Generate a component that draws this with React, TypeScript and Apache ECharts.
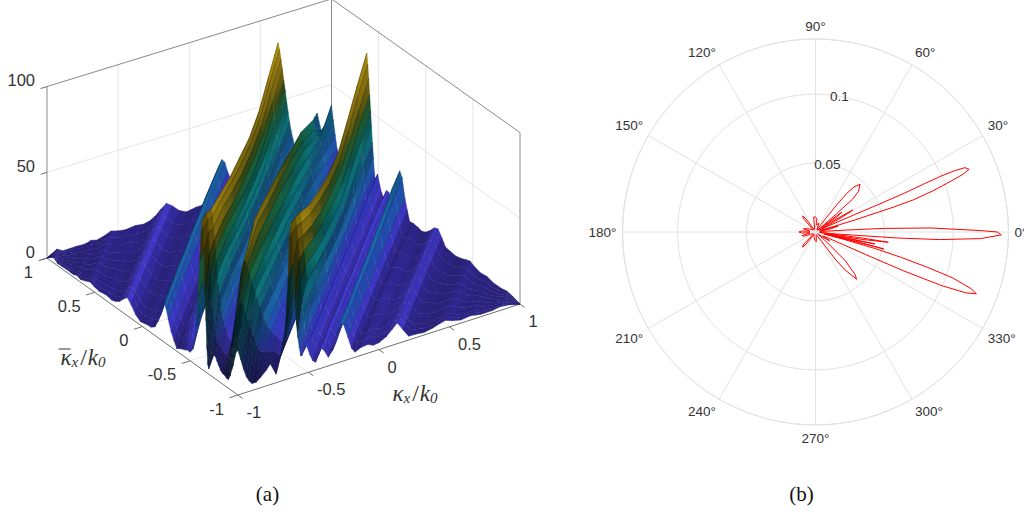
import React, { useEffect, useRef } from "react";
import * as echarts from "echarts";

// ---------- panel (a): surface heights ----------
// Positions along a ridge, as a fraction of the strip's half length (front edge -1, back edge 1).
const alongStations = [-1, -0.88, -0.75, -0.5, -0.25, 0, 0.25, 0.5, 0.75, 1];
// Each strip: its position across the ridges (kx - kbar), then its heights from front edge to back edge.
const surfaceStrips = [
  [-2, 0, 0, 0, 0, 0, 0, 0, 0, 0, 0],
  [-1.96, 2, 2, 2.1, 2, 2, 1.9, 2, 2.1, 2, 2],
  [-1.93, 3, 3.2, 3.4, 3.5, 3.4, 3.5, 3.3, 3.5, 3.4, 3.5],
  [-1.89, 1.2, 1.4, 1.5, 1.4, 1.6, 1.5, 1.4, 1.5, 1.6, 1.5],
  [-1.84, 1.4, 1.5, 1.4, 1.6, 1.5, 1.6, 1.4, 1.5, 1.6, 1.5],
  [-1.79, 1.6, 1.8, 1.6, 1.7, 1.5, 1.6, 1.8, 1.6, 1.5, 1.6],
  [-1.75, 1.4, 1.5, 1.4, 1.5, 1.6, 1.4, 1.5, 1.4, 1.5, 1.4],
  [-1.72, 1.5, 1.6, 1.5, 1.7, 1.5, 1.6, 1.5, 1.6, 1.5, 1.6],
  [-1.69, 2.4, 2.6, 2.5, 2.6, 2.4, 2.7, 2.5, 2.4, 2.6, 2.5],
  [-1.65, 1.5, 1.6, 1.4, 1.7, 1.5, 1.6, 1.4, 1.6, 1.5, 1.6],
  [-1.6, 2.6, 2.4, 2.8, 2.5, 2.7, 2.6, 2.8, 2.5, 2.6, 2.7],
  [-1.55, 4, 4.4, 4.2, 4.5, 4.1, 4.4, 4.2, 4.5, 4.3, 4.3],
  [-1.5, 3, 3.2, 2.9, 3.1, 3.3, 3, 2.9, 3.2, 3, 3.1],
  [-1.45, 2.4, 2.5, 2.7, 2.4, 2.6, 2.5, 2.7, 2.4, 2.6, 2.5],
  [-1.38, 3.2, 3, 3.3, 2.9, 3.1, 3.2, 3, 3.3, 3, 3.1],
  [-1.32, 2.6, 2.5, 2.7, 2.5, 2.6, 2.4, 2.7, 2.5, 2.6, 2.5],
  [-1.28, 3.4, 3.2, 3.5, 3.1, 3.4, 3.2, 3.3, 3.2, 3.4, 3.2],
  [-1.24, 5, 5.2, 4.8, 5.1, 5.3, 4.9, 5, 5.2, 5, 5],
  [-1.2, 8, 8.2, 7.8, 8.1, 8.3, 7.9, 8, 8.2, 8, 8],
  [-1.16, 10.5, 10.8, 10.4, 10.7, 10.9, 10.5, 10.6, 10.8, 10.5, 10.5],
  [-1.12, 8, 8.2, 7.9, 8, 8.3, 7.8, 8.1, 8.2, 8, 8],
  [-1.07, 4, 4.3, 3.9, 4.2, 4, 4.2, 3.8, 4.1, 4, 4],
  [-1.02, 2, 2.3, 2.1, 2.4, 2, 2.2, 2.1, 2.3, 2, 2],
  [-0.98, 2.6, 2.5, 2.7, 2.4, 2.6, 2.5, 2.7, 2.4, 2.5, 2.5],
  [-0.95, 3, 3.2, 3, 3.3, 3, 3.2, 3.1, 3, 3.1, 3],
  [-0.91, 3.2, 3.1, 3.4, 3, 3.3, 3.1, 3.2, 3, 3.2, 3],
  [-0.87, 5, 5.2, 5.4, 5, 5.3, 5, 5.2, 5.4, 5.1, 5],
  [-0.84, 9, 9.5, 9.8, 10, 9.6, 10, 9.8, 10, 10, 10],
  [-0.81, 14, 15, 15, 16, 16, 16, 17, 17, 17, 17],
  [-0.79, 19, 20, 20, 21, 21, 22, 22, 23, 23, 23],
  [-0.77, 22, 23, 23, 24, 24, 25, 25, 26, 26, 26],
  [-0.75, 20, 21, 21, 22, 22, 23, 23, 24, 24, 24],
  [-0.73, 15, 15, 16, 16, 17, 17, 17, 18, 18, 18],
  [-0.7, 9, 9, 10, 10, 10, 11, 11, 11, 11, 11],
  [-0.67, 5, 5.5, 6, 6, 6.5, 7, 7, 7, 7, 7],
  [-0.64, 1.5, 2, 3, 3, 3.5, 3, 3, 3, 3, 3],
  [-0.6, 3, 5, 7, 8, 9, 8, 7, 6, 6, 5],
  [-0.56, 4, 8, 12, 14, 14, 13, 12, 10, 9, 8],
  [-0.53, 5, 9, 14, 16, 16, 15, 14, 12, 10, 9],
  [-0.5, 5, 7, 11, 12, 12, 11, 11, 10, 8, 7],
  [-0.47, 8, 12, 15, 16, 15, 15, 14, 13, 12, 12],
  [-0.44, 22, 24, 22, 21, 20, 20, 20, 21, 23, 24],
  [-0.42, 40, 42, 38, 36, 34, 33, 33, 34, 38, 42],
  [-0.4, 62, 64, 60, 56, 52, 50, 49, 52, 58, 62],
  [-0.385, 79, 80, 75, 72, 68, 65, 63, 65, 72, 78],
  [-0.375, 87, 85, 80, 76, 72, 70, 68, 70, 77, 84],
  [-0.365, 82, 81, 76, 73, 69, 66, 65, 66, 74, 80],
  [-0.355, 70, 74, 70, 68, 64, 61, 60, 62, 69, 74],
  [-0.345, 45, 62, 63, 62, 58, 56, 54, 56, 62, 68],
  [-0.335, 30, 50, 57, 56, 53, 50, 49, 51, 56, 61],
  [-0.325, 14, 40, 50, 50, 47, 45, 44, 45, 50, 55],
  [-0.315, 5, 30, 44, 44, 41, 40, 39, 40, 44, 48],
  [-0.305, 3, 24, 38, 39, 37, 35, 34, 35, 39, 42],
  [-0.295, 5, 20, 33, 34, 32, 30, 30, 30, 34, 36],
  [-0.285, 7, 16, 28, 29, 27, 26, 25, 26, 29, 31],
  [-0.27, 10, 14, 23, 24, 22, 21, 21, 21, 24, 25],
  [-0.255, 13, 13, 18, 19, 18, 17, 17, 17, 19, 20],
  [-0.235, 13, 12, 15, 15, 14, 14, 13, 14, 15, 16],
  [-0.22, 11, 11, 12, 12, 11, 11, 10, 11, 12, 13],
  [-0.2, 9, 10, 10, 9, 9, 8, 8, 8, 9, 10],
  [-0.18, 7, 9, 9, 7, 7, 6, 6, 6, 7, 8],
  [-0.16, 6, 9, 9, 6, 6, 5, 5, 5, 6, 14],
  [-0.14, 6, 12, 14, 8, 7, 6, 6, 6, 14, 28],
  [-0.12, 5, 18, 25, 16, 12, 10, 10, 11, 22, 34],
  [-0.1, 5, 26, 40, 30, 24, 20, 20, 24, 30, 36],
  [-0.08, 8, 34, 52, 52, 44, 38, 38, 40, 32, 28],
  [-0.065, 12, 38, 56, 65, 60, 56, 52, 50, 38, 22],
  [-0.05, 15, 42, 60, 69, 66, 63, 59, 55, 46, 20],
  [-0.035, 20, 44, 60, 66, 62, 59, 55, 50, 40, 24],
  [-0.02, 24, 45, 58, 60, 57, 54, 50, 45, 36, 30],
  [0, 26, 44, 54, 53, 50, 47, 44, 40, 34, 38],
  [0.02, 20, 38, 48, 47, 44, 42, 39, 35, 30, 30],
  [0.04, 14, 34, 43, 41, 39, 37, 34, 31, 26, 22],
  [0.06, 9, 28, 38, 36, 34, 32, 30, 27, 22, 15],
  [0.08, 6, 24, 33, 31, 29, 28, 26, 23, 18, 12],
  [0.1, 4, 18, 28, 26, 25, 24, 22, 20, 15, 10],
  [0.13, 4, 14, 22, 21, 20, 19, 18, 16, 12, 8],
  [0.16, 6, 14, 18, 16, 15, 15, 14, 12, 9, 7],
  [0.2, 9, 13, 14, 11, 11, 10, 10, 9, 7, 6],
  [0.23, 12, 12, 11, 8, 8, 7, 7, 7, 6, 5],
  [0.27, 5, 9, 9, 9, 9, 9, 9, 9, 9, 8],
  [0.3, 14, 15, 15, 18, 17, 16, 16, 17, 18, 19],
  [0.315, 21, 22, 24, 26, 25, 24, 24, 26, 28, 28],
  [0.335, 30, 36, 42, 38, 35, 33, 33, 35, 38, 42],
  [0.355, 58, 60, 60, 57, 53, 50, 49, 54, 59, 63],
  [0.365, 82, 80, 76, 69, 64, 60, 59, 65, 72, 77],
  [0.375, 90, 87, 83, 74, 69, 65, 64, 70, 77, 83],
  [0.385, 84, 82, 77, 69, 64, 60, 59, 65, 72, 77],
  [0.395, 68, 74, 69, 62, 57, 54, 53, 58, 64, 69],
  [0.405, 45, 62, 60, 54, 50, 47, 46, 50, 56, 60],
  [0.415, 30, 50, 51, 46, 42, 40, 39, 43, 47, 51],
  [0.425, 22, 38, 42, 38, 35, 33, 32, 35, 39, 42],
  [0.435, 16, 28, 33, 30, 28, 26, 26, 28, 31, 33],
  [0.445, 11, 20, 25, 23, 21, 20, 20, 21, 23, 25],
  [0.455, 11, 15, 17, 16, 15, 14, 14, 15, 16, 17],
  [0.465, 13, 12, 11, 11, 10, 10, 10, 10, 11, 12],
  [0.478, 17, 14, 11, 11, 10, 10, 10, 11, 14, 15],
  [0.49, 15, 15, 15, 15, 16, 15, 15, 16, 17, 17],
  [0.51, 10, 11, 12, 12, 11, 12, 11, 12, 12, 12],
  [0.53, 6, 7, 8, 8, 7, 8, 8, 7, 8, 8],
  [0.55, 4.5, 5, 6, 6, 6, 6, 6, 6, 6, 6],
  [0.57, 8, 8, 9, 8, 9, 8, 9, 8, 9, 8],
  [0.584, 12, 11, 12, 11, 12, 11, 12, 12, 12, 11],
  [0.61, 10, 10, 11, 10, 11, 10, 11, 11, 11, 11],
  [0.64, 5, 6, 6, 7, 6, 7, 6, 7, 7, 6],
  [0.67, 8, 8, 9, 9, 9, 10, 9, 10, 10, 10],
  [0.7, 17, 16, 16, 17, 17, 18, 18, 19, 20, 20],
  [0.725, 23, 23, 22, 23, 23, 24, 25, 26, 28, 28],
  [0.75, 21, 21, 21, 22, 22, 22, 23, 24, 25, 25],
  [0.78, 13, 13, 14, 14, 13, 14, 14, 14, 15, 14],
  [0.805, 6, 7, 8, 8, 8, 8, 8, 8, 8, 8],
  [0.83, 3, 3.2, 3.5, 3.5, 3.5, 3.6, 3.5, 3.4, 3, 2.5],
  [0.87, 4.5, 5, 5, 5, 5.5, 5, 5, 4.5, 4, 3],
  [0.92, 5, 5.5, 6, 5.5, 6, 5.5, 5.5, 5, 4, 2.5],
  [0.96, 3.5, 4, 4.5, 4, 4.5, 4, 4, 3.5, 3, 2],
  [1.0, 4, 4.5, 5, 5, 5, 5, 4.5, 4, 3.5, 3],
  [1.05, 6, 6.5, 6.5, 6, 6.5, 6, 6, 6, 6, 6],
  [1.09, 9, 9.5, 9, 9, 9.5, 9, 9, 9, 9, 9],
  [1.13, 12, 11.5, 11, 10.5, 10.5, 10.5, 10, 10, 10, 10],
  [1.17, 7, 7, 6.5, 7, 6.5, 6.5, 7, 6.5, 6.5, 6.5],
  [1.21, 2.2, 2.5, 2.6, 2.5, 2.6, 2.5, 2.5, 2.6, 2.5, 2.5],
  [1.26, 2, 2.2, 2, 2.3, 2.1, 2.2, 2, 2.1, 2, 2],
  [1.32, 1.5, 1.6, 1.4, 1.5, 1.6, 1.4, 1.5, 1.4, 1.5, 1.5],
  [1.38, 2.4, 2.5, 2.3, 2.6, 2.4, 2.5, 2.3, 2.5, 2.4, 2.4],
  [1.43, 3.6, 3.8, 3.7, 3.9, 3.7, 3.8, 3.6, 3.8, 3.7, 3.7],
  [1.47, 4.5, 4.6, 4.4, 4.7, 4.5, 4.6, 4.4, 4.5, 4.4, 4.4],
  [1.52, 3, 3.2, 2.9, 3.1, 3, 3.2, 2.9, 3, 3, 3],
  [1.58, 1.8, 2, 1.9, 2.1, 1.8, 2, 1.9, 2, 1.9, 1.9],
  [1.65, 2.4, 2.6, 2.4, 2.7, 2.5, 2.6, 2.4, 2.5, 2.5, 2.5],
  [1.72, 1.4, 1.5, 1.6, 1.4, 1.5, 1.6, 1.4, 1.5, 1.4, 1.4],
  [1.8, 1.4, 1.5, 1.4, 1.5, 1.6, 1.4, 1.5, 1.4, 1.5, 1.5],
  [1.86, 2.2, 2.3, 2.2, 2.4, 2.2, 2.3, 2.2, 2.3, 2.2, 2.2],
  [1.92, 1.6, 1.7, 1.6, 1.7, 1.6, 1.7, 1.6, 1.7, 1.6, 1.6],
  [2, 0, 0, 0, 0, 0, 0, 0, 0, 0, 0],
];
const colorLevels = [0, 5, 10, 14, 18, 24, 30, 36, 42, 46, 50, 54, 58, 64, 72, 80, 88];
const colorStops = [
  "#2b2280", "#352ba8", "#4a40ea", "#3c3fe0", "#2958d0", "#1e78c4", "#134e88", "#0f7f96", "#0e8f8c", "#0a5a5c", "#1b7a55",
  "#1f6a3a", "#3d4f16", "#8a7812", "#a98a12", "#c9a815", "#fbe30f",
];
const sideTicks = [-1, -0.5, 0, 0.5, 1];
const sideTickLabels = ["-1", "-0.5", "0", "0.5", "1"];
const heightTicks = [0, 50, 100];

// ---------- panel (b): polar pattern ----------
const patternAngles = [
  0, 0.5, 2, 3, 3.6, 5, 9, 12, 15, 16, 16.5, 17, 17.7, 18.2, 19.3, 20.3, 21.3, 22.2, 23.3, 23.8, 24, 23.9, 23.6, 23.6, 24, 24.8, 26,
  27.5, 30, 30.7, 31.5, 33, 35, 37, 38, 39, 40, 41, 41.5, 43.5, 47, 49.5, 51, 52, 53, 56, 70, 80, 85, 92, 97, 102, 115, 122, 126, 129,
  132, 136, 150, 160, 165, 172, 176, 180, 184, 188, 195, 200, 205, 225, 226, 229.3, 232, 236, 255, 265, 275, 285, 295, 303, 306, 308,
  311, 313, 316, 318, 320, 325, 328, 330, 334.5, 335.8, 336.2, 337, 338, 339, 340, 341.5, 342.5, 343.5, 344.5, 345.5, 347, 347.5,
  346.3, 346, 347, 348, 348.3, 348.6, 349.2, 350, 351, 352, 352.6, 353, 354, 354.6, 355.8, 356.5, 357.7, 359.1, 360,
];
const patternRadii = [
  0.132, 0.1197, 0.0836, 0.05, 0.0227, 0.005, 0.003, 0.012, 0.017, 0.004, 0.006, 0.03, 0.06, 0.0748, 0.09, 0.1016, 0.114, 0.1203, 0.118, 0.11, 0.1, 0.085, 0.07, 0.05, 0.03, 0.012, 0.003,
  0.012, 0.029, 0.0315, 0.02, 0.006, 0.018, 0.024, 0.012, 0.002, 0.006, 0.02, 0.036, 0.043, 0.0474, 0.043, 0.036, 0.025, 0.012, 0.002, 0.007, 0.005, 0.01, 0.011, 0.011, 0.003, 0.002, 0.003, 0.012, 0.015,
  0.012, 0.002, 0.004, 0.007, 0.009, 0.004, 0.01, 0.012, 0.01, 0.004, 0.01, 0.009, 0.003, 0.002, 0.012, 0.0145, 0.012, 0.002, 0.004, 0.006, 0.007, 0.002, 0.003, 0.008, 0.025, 0.035,
  0.0454, 0.042, 0.03, 0.012, 0.002, 0.006, 0.012, 0.006, 0.01, 0.04, 0.07, 0.1, 0.118, 0.125, 0.12, 0.105, 0.085, 0.065, 0.045, 0.02, 0.006, 0.006,
  0.04, 0.0511, 0.03, 0.01, 0.03, 0.044, 0.025, 0.008, 0.035, 0.0533, 0.035, 0.012, 0.003, 0.0155, 0.059, 0.09, 0.1197, 0.1348, 0.132,
];
const radialMax = 0.14;
const SANS = '"Liberation Sans", Arial, sans-serif';
const SERIF = '"Liberation Serif", "Times New Roman", serif';

// oblique view of the data box onto the page
function project(u: number, v: number, z: number): number[] {
  return [
    284.1 + 141.65 * u - 94.85 * v + 0.6 * u * v,
    281.9 - 44.65 * u - 67.65 * v + 0.83 * u * v - 1.715 * z,
  ];
}
function hex(c: string): number[] {
  return [1, 3, 5].map((i) => parseInt(c.slice(i, i + 2), 16));
}
function colorFor(z: number, shade: number): string {
  let i = 0;
  while (i < colorLevels.length - 2 && z > colorLevels[i + 1]) i++;
  const f = Math.min(1, Math.max(0, (z - colorLevels[i]) / (colorLevels[i + 1] - colorLevels[i])));
  const a = hex(colorStops[i]);
  const b = hex(colorStops[i + 1]);
  const m = a.map((x, j) => Math.round(Math.min(255, (x + (b[j] - x) * f) * shade)));
  return `rgb(${m[0]},${m[1]},${m[2]})`;
}

type Quad = { pts: number[][]; front: string; back: string };
function buildQuads(): Quad[] {
  const K = alongStations.length;
  const node = (i: number, k: number) => {
    const d = surfaceStrips[i][0];
    const s = alongStations[k] * (1 - Math.abs(d) / 2);
    return [s + d / 2, s - d / 2, surfaceStrips[i][k + 1]];
  };
  const out: Quad[] = [];
  for (let k = K - 2; k >= 0; k--) {
    for (let i = 0; i < surfaceStrips.length - 1; i++) {
      const c = [node(i, k), node(i + 1, k), node(i + 1, k + 1), node(i, k + 1)];
      const a = [c[2][0] - c[0][0], c[2][1] - c[0][1], (c[2][2] - c[0][2]) / 60];
      const b = [c[3][0] - c[1][0], c[3][1] - c[1][1], (c[3][2] - c[1][2]) / 60];
      let n = [a[1] * b[2] - a[2] * b[1], a[2] * b[0] - a[0] * b[2], a[0] * b[1] - a[1] * b[0]];
      if (n[2] < 0) n = n.map((x) => -x);
      const len = Math.hypot(n[0], n[1], n[2]) || 1;
      const lit = (-0.1 * n[0] - 0.62 * n[1] + 0.78 * n[2]) / len;
      const central = Math.abs(surfaceStrips[i][0]) < 0.42;
      const rowDim = !central ? 1 : k === 0 ? 0.5 : k === 1 ? 0.72 : 1;
      const shade = (0.72 + 0.22 * Math.max(0, lit)) * rowDim;
      out.push({
        pts: c.map((p) => project(p[0], p[1], p[2])),
        front: colorFor((c[0][2] + c[1][2]) / 2, shade),
        back: colorFor((c[2][2] + c[3][2]) / 2, shade),
      });
    }
  }
  return out;
}

type Seg = { a: number[]; b: number[]; color: string };
function buildFrame(): Seg[] {
  const grid = "#e6e6e6";
  const edge = "#8a8a8a";
  const segs: Seg[] = [];
  const add = (p: number[], q: number[], color: string) => segs.push({ a: project(p[0], p[1], p[2]), b: project(q[0], q[1], q[2]), color });
  for (const t of sideTicks) {
    if (Math.abs(t) === 1) continue;
    add([t, 1, 0], [t, 1, 100], grid);
    add([1, t, 0], [1, t, 100], grid);
    add([t, -1, 0], [t, 1, 0], grid);
    add([-1, t, 0], [1, t, 0], grid);
  }
  add([-1, 1, 50], [1, 1, 50], grid);
  add([1, 1, 50], [1, -1, 50], grid);
  add([-1, 1, 0], [1, 1, 0], grid);
  add([1, 1, 0], [1, -1, 0], "#bdbdbd");
  add([-1, 1, 100], [1, 1, 100], edge);
  add([1, 1, 100], [1, -1, 100], edge);
  add([-1, 1, 0], [-1, 1, 100], edge);
  add([1, 1, 0], [1, 1, 100], edge);
  add([1, -1, 0], [1, -1, 100], edge);
  add([-1, -1, 0], [-1, 1, 0], "#707070");
  add([-1, -1, 0], [1, -1, 0], "#707070");
  for (const t of sideTicks) {
    add([-1, t, 0], [-1.06, t, 0], "#707070");
    add([t, -1, 0], [t, -1.05, 0], "#707070");
  }
  for (const h of heightTicks) add([-1, 1, h], [-1.045, 1, h], "#707070");
  return segs;
}

const quads = buildQuads();
const frame = buildFrame();

function labelGraphics(): any[] {
  const base = { fontFamily: SANS, fontSize: 16.5, fill: "#333333" };
  const els: any[] = [];
  sideTicks.forEach((t, i) => {
    const pv = project(-1, t, 0);
    els.push({ type: "text", x: pv[0] - 14, y: pv[1] + 13.5, style: { ...base, text: sideTickLabels[i], textAlign: "right", textVerticalAlign: "middle" } });
    const pu = project(t, -1, 0);
    els.push({ type: "text", x: pu[0] + 8.5, y: pu[1] + 17, style: { ...base, text: sideTickLabels[i], textAlign: "left", textVerticalAlign: "middle" } });
  });
  heightTicks.forEach((h) => {
    const p = project(-1, 1, h);
    els.push({ type: "text", x: p[0] - 12, y: p[1] - 6.5, style: { ...base, text: String(h), textAlign: "right", textVerticalAlign: "middle" } });
  });
  const math = {
    k: { fontFamily: SERIF, fontStyle: "italic", fontSize: 23, fill: "#333333" },
    s: { fontFamily: SERIF, fontStyle: "italic", fontSize: 15, fill: "#333333", verticalAlign: "bottom", padding: [9, 0, 0, 0] },
    n: { fontFamily: SERIF, fontSize: 24, fill: "#333333", padding: [0, 1, 0, 2] },
  };
  els.push({ type: "text", x: 415, y: 393, style: { text: "{k|κ}{s|x}{n|/}{k|k}{s|0}", rich: math, textAlign: "center", textVerticalAlign: "middle" } });
  els.push({ type: "text", x: 83, y: 357, style: { text: "{k|κ}{s|x}{n|/}{k|k}{s|0}", rich: math, textAlign: "center", textVerticalAlign: "middle" } });
  els.push({ type: "line", shape: { x1: 58.5, y1: 349, x2: 70.5, y2: 349 }, style: { stroke: "#333333", lineWidth: 1 } });
  els.push({ type: "text", x: 267.5, y: 494, style: { text: "(a)", fontFamily: SERIF, fontSize: 21, fill: "#111111", textAlign: "center", textVerticalAlign: "middle" } });
  els.push({ type: "text", x: 801.5, y: 494, style: { text: "(b)", fontFamily: SERIF, fontSize: 21, fill: "#111111", textAlign: "center", textVerticalAlign: "middle" } });
  return els;
}

export default function App() {
  const ref = useRef<HTMLDivElement>(null);
  useEffect(() => {
    document.body.style.margin = "0";
    const chart = echarts.init(ref.current!, undefined, { renderer: "svg" });
    const gridColor = "#e2e2e2";
    chart.setOption({
      animation: false,
      backgroundColor: "#ffffff",
      grid: { left: 0, right: 0, top: 0, bottom: 0 },
      xAxis: { type: "value", min: 0, max: 1024, show: false },
      yAxis: { type: "value", min: 0, max: 512, inverse: true, show: false },
      polar: [
        { center: [815.5, 232], radius: 193 },
        { center: [815.5, 232], radius: 193 },
      ],
      angleAxis: [
        {
          polarIndex: 0, type: "value", min: 0, max: 360, interval: 30, startAngle: 0, clockwise: false,
          axisLine: { show: true, lineStyle: { color: gridColor, width: 1 } },
          axisTick: { show: false },
          axisLabel: { show: true, formatter: "{value}°", margin: 6, fontFamily: SANS, fontSize: 13.5, color: "#333333" },
          splitLine: { show: true, lineStyle: { color: gridColor, width: 1 } },
        },
        {
          polarIndex: 1, type: "value", min: 0, max: 360, startAngle: 80, clockwise: false,
          axisLine: { show: false }, axisTick: { show: false }, axisLabel: { show: false }, splitLine: { show: false },
        },
      ],
      radiusAxis: [
        {
          polarIndex: 0, type: "value", min: 0, max: radialMax, interval: 0.05,
          axisLine: { show: false }, axisTick: { show: false }, axisLabel: { show: false },
          splitLine: { show: true, lineStyle: { color: gridColor, width: 1 } },
        },
        {
          polarIndex: 1, type: "value", min: 0, max: radialMax, interval: 0.05,
          axisLine: { show: false }, axisTick: { show: false }, splitLine: { show: false },
          axisLabel: {
            show: true, margin: 0, align: "center", verticalAlign: "middle", rotate: 0, fontFamily: SANS, fontSize: 13.5, color: "#333333",
            formatter: (v: number) => (v === 0.05 ? "0.05" : v === 0.1 ? "0.1" : ""),
          },
        },
      ],
      graphic: labelGraphics(),
      series: [
        {
          type: "custom", coordinateSystem: "cartesian2d", silent: true, z: 1,
          data: frame.map((s) => [s.a[0], s.a[1]]),
          renderItem: (p: any, api: any) => {
            const s = frame[p.dataIndex];
            const a = api.coord(s.a);
            const b = api.coord(s.b);
            return { type: "line", shape: { x1: a[0], y1: a[1], x2: b[0], y2: b[1] }, style: { stroke: s.color, lineWidth: 1 } };
          },
        },
        {
          type: "custom", coordinateSystem: "cartesian2d", silent: true, z: 2,
          data: quads.map((q) => q.pts[0]),
          renderItem: (p: any, api: any) => {
            const q = quads[p.dataIndex];
            const pts = q.pts.map((pt) => api.coord(pt));
            const fill = new echarts.graphic.LinearGradient(0.5, 1, 0.5, 0, [
              { offset: 0, color: q.front },
              { offset: 1, color: q.back },
            ]);
            return {
              type: "group",
              children: [
                { type: "polygon", shape: { points: pts }, style: { fill, stroke: q.back, lineWidth: 0.4 } },
                {
                  type: "line",
                  shape: { x1: pts[0][0], y1: pts[0][1], x2: pts[3][0], y2: pts[3][1] },
                  style: { stroke: "rgba(0,0,0,0.42)", lineWidth: 0.6 },
                },
              ],
            };
          },
        },
        {
          type: "line", coordinateSystem: "polar", polarIndex: 0, z: 3, silent: true, showSymbol: false, symbol: "none",
          smooth: false, lineStyle: { color: "#ff0000", width: 1 },
          data: patternAngles.map((a, i) => [patternRadii[i], a]),
        },
      ],
    });
    return () => chart.dispose();
  }, []);
  return <div ref={ref} style={{ position: "absolute", left: 0, top: 0, width: 1024, height: 512 }} />;
}
